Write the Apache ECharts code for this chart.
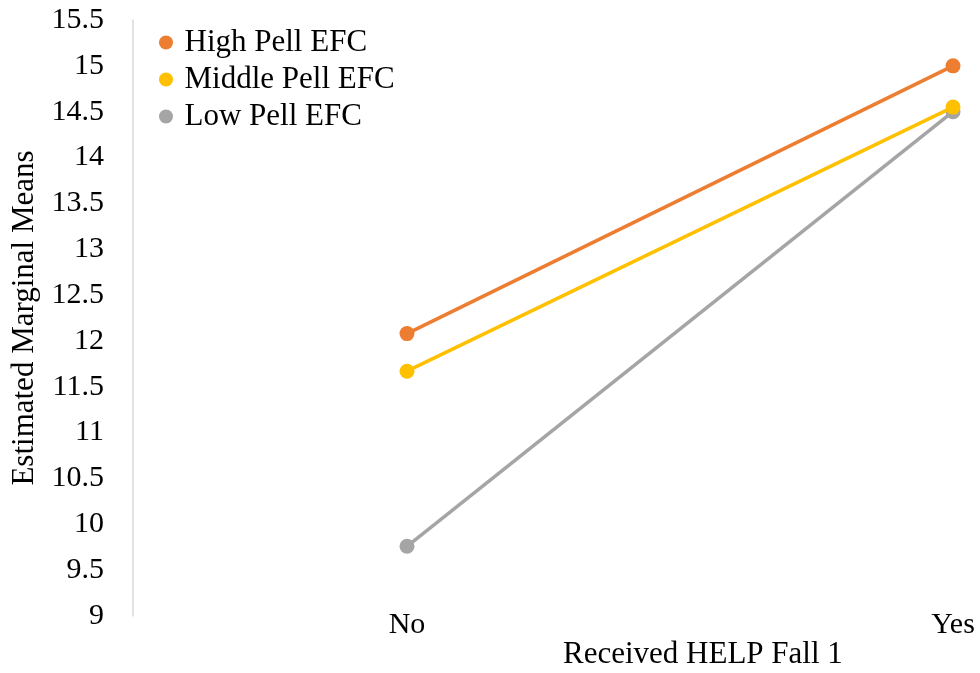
<!DOCTYPE html>
<html>
<head>
<meta charset="utf-8">
<script src="https://cdn.jsdelivr.net/npm/echarts@6/dist/echarts.min.js"></script>
<style>
  html, body { margin: 0; padding: 0; background: #fff; }
  #chart { width: 980px; height: 673px; }
</style>
</head>
<body>
<div id="chart"></div>
<script>
// Categories on the horizontal axis
const categories = ['No', 'Yes'];

// Estimated marginal means per Pell EFC group
const highPell = [12.08, 15.0];
const middlePell = [11.67, 14.55];
const lowPell = [9.76, 14.5];

// Vertical axis range
const yMin = 9;
const yMax = 15.5;
const yStep = 0.5;

const FONT = "'Liberation Serif', 'Times New Roman', serif";

const chart = echarts.init(document.getElementById('chart'));

function lineSeries(name, data, color, z) {
  return {
    name: name,
    type: 'line',
    data: data,
    z: z,
    symbol: 'circle',
    symbolSize: 15,
    lineStyle: { color: color, width: 3.5 },
    itemStyle: { color: color },
    emphasis: { disabled: true },
    animation: false
  };
}

// The category points sit half a band inside the plot; the value axis is
// pushed out to the plot's left edge with an offset.
const gridLeft = 407;
const axisOffset = 274;

chart.setOption({
  animation: false,
  backgroundColor: '#ffffff',
  grid: { left: gridLeft, right: 27, top: 20, bottom: 57, containLabel: false },
  legend: {
    orient: 'vertical',
    left: 154,
    top: 22,
    icon: 'circle',
    itemWidth: 27,
    itemHeight: 14,
    itemGap: 6,
    textStyle: { fontFamily: FONT, fontSize: 31, color: '#000' },
    data: ['High Pell EFC', 'Middle Pell EFC', 'Low Pell EFC']
  },
  xAxis: {
    type: 'category',
    data: categories,
    boundaryGap: false,
    axisLine: { show: false },
    axisTick: { show: false },
    splitLine: { show: false },
    axisLabel: { fontFamily: FONT, fontSize: 30, color: '#000', margin: -6 }
  },
  yAxis: {
    type: 'value',
    min: yMin,
    max: yMax,
    interval: yStep,
    offset: axisOffset,
    name: 'Estimated Marginal Means',
    nameLocation: 'middle',
    nameGap: 89,
    nameTextStyle: { fontFamily: FONT, fontSize: 31, color: '#000' },
    axisLine: { show: true, lineStyle: { color: '#d9d9d9', width: 1.5 } },
    axisTick: { show: false },
    splitLine: { show: false },
    axisLabel: { fontFamily: FONT, fontSize: 30, color: '#000', margin: 29 }
  },
  graphic: [{
    type: 'text',
    left: 563,
    top: 639,
    style: { text: 'Received HELP Fall 1', font: '31px ' + FONT, fill: '#000' }
  }],
  series: [
    lineSeries('High Pell EFC', highPell, '#ED7D31', 3),
    lineSeries('Middle Pell EFC', middlePell, '#FFC000', 3),
    lineSeries('Low Pell EFC', lowPell, '#A5A5A5', 2)
  ]
});
</script>
</body>
</html>
